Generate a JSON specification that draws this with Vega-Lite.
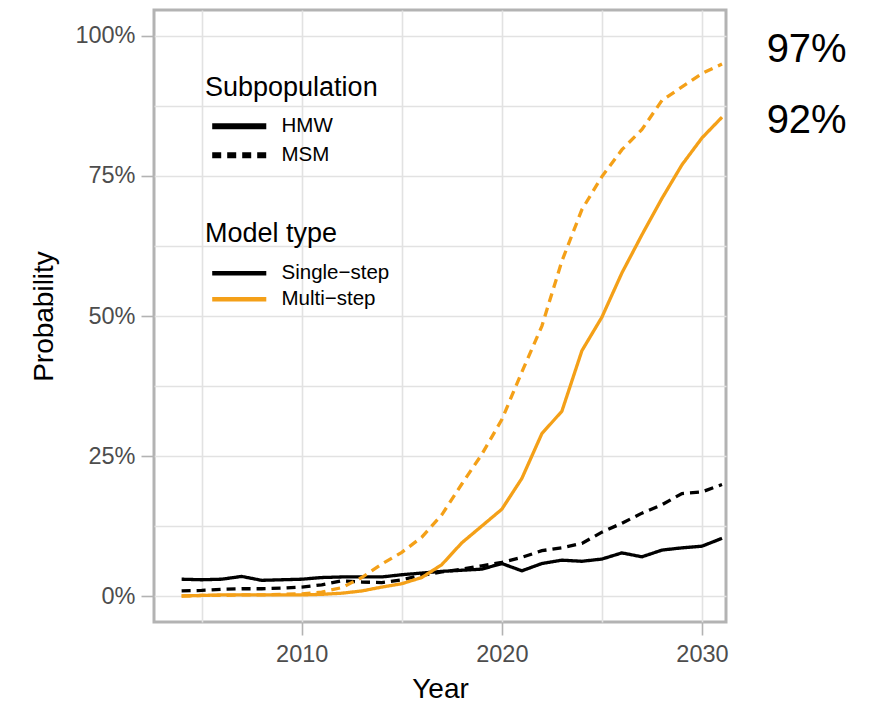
{
  "$schema": "https://vega.github.io/schema/vega-lite/v6.json",
  "width": 572,
  "height": 612,
  "autosize": {"type": "none"},
  "padding": {"left": 154, "top": 10, "right": 151, "bottom": 81},
  "background": "white",
  "config": {
    "font": "Liberation Sans",
    "view": {"stroke": "#B3B3B3", "strokeWidth": 3},
    "axis": {
      "domain": false,
      "gridColor": "#E2E2E2",
      "gridWidth": 1.6,
      "tickColor": "#B3B3B3",
      "tickWidth": 1.6,
      "tickSize": 13,
      "labelColor": "#4D4D4D",
      "labelFontSize": 23.5,
      "labelFont": "Liberation Sans",
      "titleFont": "Liberation Sans",
      "titleFontSize": 28,
      "titleFontWeight": "normal",
      "titleColor": "black"
    },
    "legend": {
      "titleFont": "Liberation Sans",
      "labelFont": "Liberation Sans",
      "titleFontSize": 27,
      "titleFontWeight": "normal",
      "titleColor": "black",
      "labelColor": "black",
      "labelFontSize": 20.5,
      "padding": 0
    }
  },
  "encoding": {
    "x": {
      "field": "year",
      "type": "quantitative",
      "scale": {"domain": [2002.62, 2031.2], "nice": false, "zero": false},
      "axis": {
        "title": "Year",
        "values": [2005, 2010, 2015, 2020, 2025, 2030],
        "labelExpr": "datum.value % 10 === 0 ? '' + datum.value : ''",
        "tickOpacity": {"condition": {"test": "datum.value % 10 === 0", "value": 1}, "value": 0},
        "labelPadding": 7,
        "titleX": 286,
        "titleY": 75,
        "titleBaseline": "alphabetic",
        "titleAlign": "center"
      }
    },
    "y": {
      "field": "prob",
      "type": "quantitative",
      "scale": {"domain": [-0.0464, 1.0464], "nice": false, "zero": false},
      "axis": {
        "title": "Probability",
        "values": [0, 0.125, 0.25, 0.375, 0.5, 0.625, 0.75, 0.875, 1],
        "labelExpr": "datum.value % 0.25 === 0 ? format(datum.value, '.0%') : ''",
        "tickOpacity": {"condition": {"test": "datum.value % 0.25 === 0", "value": 1}, "value": 0},
        "labelPadding": 6,
        "titleX": -102,
        "titleY": 306,
        "titleAngle": -90,
        "titleBaseline": "alphabetic",
        "titleAlign": "center"
      }
    }
  },
  "layer": [
    {
      "data": {
        "values": [
          {"year": 2004, "prob": 0.030, "subpopulation": "HMW", "model": "Single−step"},
          {"year": 2005, "prob": 0.029, "subpopulation": "HMW", "model": "Single−step"},
          {"year": 2006, "prob": 0.030, "subpopulation": "HMW", "model": "Single−step"},
          {"year": 2007, "prob": 0.035, "subpopulation": "HMW", "model": "Single−step"},
          {"year": 2008, "prob": 0.028, "subpopulation": "HMW", "model": "Single−step"},
          {"year": 2009, "prob": 0.029, "subpopulation": "HMW", "model": "Single−step"},
          {"year": 2010, "prob": 0.030, "subpopulation": "HMW", "model": "Single−step"},
          {"year": 2011, "prob": 0.033, "subpopulation": "HMW", "model": "Single−step"},
          {"year": 2012, "prob": 0.034, "subpopulation": "HMW", "model": "Single−step"},
          {"year": 2013, "prob": 0.034, "subpopulation": "HMW", "model": "Single−step"},
          {"year": 2014, "prob": 0.034, "subpopulation": "HMW", "model": "Single−step"},
          {"year": 2015, "prob": 0.038, "subpopulation": "HMW", "model": "Single−step"},
          {"year": 2016, "prob": 0.041, "subpopulation": "HMW", "model": "Single−step"},
          {"year": 2017, "prob": 0.044, "subpopulation": "HMW", "model": "Single−step"},
          {"year": 2018, "prob": 0.046, "subpopulation": "HMW", "model": "Single−step"},
          {"year": 2019, "prob": 0.048, "subpopulation": "HMW", "model": "Single−step"},
          {"year": 2020, "prob": 0.058, "subpopulation": "HMW", "model": "Single−step"},
          {"year": 2021, "prob": 0.045, "subpopulation": "HMW", "model": "Single−step"},
          {"year": 2022, "prob": 0.058, "subpopulation": "HMW", "model": "Single−step"},
          {"year": 2023, "prob": 0.064, "subpopulation": "HMW", "model": "Single−step"},
          {"year": 2024, "prob": 0.062, "subpopulation": "HMW", "model": "Single−step"},
          {"year": 2025, "prob": 0.066, "subpopulation": "HMW", "model": "Single−step"},
          {"year": 2026, "prob": 0.077, "subpopulation": "HMW", "model": "Single−step"},
          {"year": 2027, "prob": 0.070, "subpopulation": "HMW", "model": "Single−step"},
          {"year": 2028, "prob": 0.082, "subpopulation": "HMW", "model": "Single−step"},
          {"year": 2029, "prob": 0.086, "subpopulation": "HMW", "model": "Single−step"},
          {"year": 2030, "prob": 0.089, "subpopulation": "HMW", "model": "Single−step"},
          {"year": 2031, "prob": 0.103, "subpopulation": "HMW", "model": "Single−step"},

          {"year": 2004, "prob": 0.009, "subpopulation": "MSM", "model": "Single−step"},
          {"year": 2005, "prob": 0.010, "subpopulation": "MSM", "model": "Single−step"},
          {"year": 2006, "prob": 0.012, "subpopulation": "MSM", "model": "Single−step"},
          {"year": 2007, "prob": 0.013, "subpopulation": "MSM", "model": "Single−step"},
          {"year": 2008, "prob": 0.013, "subpopulation": "MSM", "model": "Single−step"},
          {"year": 2009, "prob": 0.014, "subpopulation": "MSM", "model": "Single−step"},
          {"year": 2010, "prob": 0.016, "subpopulation": "MSM", "model": "Single−step"},
          {"year": 2011, "prob": 0.020, "subpopulation": "MSM", "model": "Single−step"},
          {"year": 2012, "prob": 0.027, "subpopulation": "MSM", "model": "Single−step"},
          {"year": 2013, "prob": 0.025, "subpopulation": "MSM", "model": "Single−step"},
          {"year": 2014, "prob": 0.024, "subpopulation": "MSM", "model": "Single−step"},
          {"year": 2015, "prob": 0.029, "subpopulation": "MSM", "model": "Single−step"},
          {"year": 2016, "prob": 0.037, "subpopulation": "MSM", "model": "Single−step"},
          {"year": 2017, "prob": 0.043, "subpopulation": "MSM", "model": "Single−step"},
          {"year": 2018, "prob": 0.048, "subpopulation": "MSM", "model": "Single−step"},
          {"year": 2019, "prob": 0.054, "subpopulation": "MSM", "model": "Single−step"},
          {"year": 2020, "prob": 0.060, "subpopulation": "MSM", "model": "Single−step"},
          {"year": 2021, "prob": 0.069, "subpopulation": "MSM", "model": "Single−step"},
          {"year": 2022, "prob": 0.081, "subpopulation": "MSM", "model": "Single−step"},
          {"year": 2023, "prob": 0.086, "subpopulation": "MSM", "model": "Single−step"},
          {"year": 2024, "prob": 0.094, "subpopulation": "MSM", "model": "Single−step"},
          {"year": 2025, "prob": 0.114, "subpopulation": "MSM", "model": "Single−step"},
          {"year": 2026, "prob": 0.130, "subpopulation": "MSM", "model": "Single−step"},
          {"year": 2027, "prob": 0.148, "subpopulation": "MSM", "model": "Single−step"},
          {"year": 2028, "prob": 0.163, "subpopulation": "MSM", "model": "Single−step"},
          {"year": 2029, "prob": 0.183, "subpopulation": "MSM", "model": "Single−step"},
          {"year": 2030, "prob": 0.186, "subpopulation": "MSM", "model": "Single−step"},
          {"year": 2031, "prob": 0.199, "subpopulation": "MSM", "model": "Single−step"},

          {"year": 2004, "prob": 0.000, "subpopulation": "HMW", "model": "Multi−step"},
          {"year": 2005, "prob": 0.001, "subpopulation": "HMW", "model": "Multi−step"},
          {"year": 2006, "prob": 0.002, "subpopulation": "HMW", "model": "Multi−step"},
          {"year": 2007, "prob": 0.002, "subpopulation": "HMW", "model": "Multi−step"},
          {"year": 2008, "prob": 0.002, "subpopulation": "HMW", "model": "Multi−step"},
          {"year": 2009, "prob": 0.002, "subpopulation": "HMW", "model": "Multi−step"},
          {"year": 2010, "prob": 0.002, "subpopulation": "HMW", "model": "Multi−step"},
          {"year": 2011, "prob": 0.003, "subpopulation": "HMW", "model": "Multi−step"},
          {"year": 2012, "prob": 0.005, "subpopulation": "HMW", "model": "Multi−step"},
          {"year": 2013, "prob": 0.009, "subpopulation": "HMW", "model": "Multi−step"},
          {"year": 2014, "prob": 0.016, "subpopulation": "HMW", "model": "Multi−step"},
          {"year": 2015, "prob": 0.022, "subpopulation": "HMW", "model": "Multi−step"},
          {"year": 2016, "prob": 0.033, "subpopulation": "HMW", "model": "Multi−step"},
          {"year": 2017, "prob": 0.056, "subpopulation": "HMW", "model": "Multi−step"},
          {"year": 2018, "prob": 0.095, "subpopulation": "HMW", "model": "Multi−step"},
          {"year": 2019, "prob": 0.125, "subpopulation": "HMW", "model": "Multi−step"},
          {"year": 2020, "prob": 0.155, "subpopulation": "HMW", "model": "Multi−step"},
          {"year": 2021, "prob": 0.210, "subpopulation": "HMW", "model": "Multi−step"},
          {"year": 2022, "prob": 0.290, "subpopulation": "HMW", "model": "Multi−step"},
          {"year": 2023, "prob": 0.330, "subpopulation": "HMW", "model": "Multi−step"},
          {"year": 2024, "prob": 0.438, "subpopulation": "HMW", "model": "Multi−step"},
          {"year": 2025, "prob": 0.498, "subpopulation": "HMW", "model": "Multi−step"},
          {"year": 2026, "prob": 0.577, "subpopulation": "HMW", "model": "Multi−step"},
          {"year": 2027, "prob": 0.645, "subpopulation": "HMW", "model": "Multi−step"},
          {"year": 2028, "prob": 0.710, "subpopulation": "HMW", "model": "Multi−step"},
          {"year": 2029, "prob": 0.770, "subpopulation": "HMW", "model": "Multi−step"},
          {"year": 2030, "prob": 0.818, "subpopulation": "HMW", "model": "Multi−step"},
          {"year": 2031, "prob": 0.855, "subpopulation": "HMW", "model": "Multi−step"},

          {"year": 2004, "prob": 0.000, "subpopulation": "MSM", "model": "Multi−step"},
          {"year": 2005, "prob": 0.001, "subpopulation": "MSM", "model": "Multi−step"},
          {"year": 2006, "prob": 0.001, "subpopulation": "MSM", "model": "Multi−step"},
          {"year": 2007, "prob": 0.002, "subpopulation": "MSM", "model": "Multi−step"},
          {"year": 2008, "prob": 0.002, "subpopulation": "MSM", "model": "Multi−step"},
          {"year": 2009, "prob": 0.003, "subpopulation": "MSM", "model": "Multi−step"},
          {"year": 2010, "prob": 0.004, "subpopulation": "MSM", "model": "Multi−step"},
          {"year": 2011, "prob": 0.007, "subpopulation": "MSM", "model": "Multi−step"},
          {"year": 2012, "prob": 0.015, "subpopulation": "MSM", "model": "Multi−step"},
          {"year": 2013, "prob": 0.033, "subpopulation": "MSM", "model": "Multi−step"},
          {"year": 2014, "prob": 0.057, "subpopulation": "MSM", "model": "Multi−step"},
          {"year": 2015, "prob": 0.078, "subpopulation": "MSM", "model": "Multi−step"},
          {"year": 2016, "prob": 0.105, "subpopulation": "MSM", "model": "Multi−step"},
          {"year": 2017, "prob": 0.145, "subpopulation": "MSM", "model": "Multi−step"},
          {"year": 2018, "prob": 0.200, "subpopulation": "MSM", "model": "Multi−step"},
          {"year": 2019, "prob": 0.253, "subpopulation": "MSM", "model": "Multi−step"},
          {"year": 2020, "prob": 0.315, "subpopulation": "MSM", "model": "Multi−step"},
          {"year": 2021, "prob": 0.400, "subpopulation": "MSM", "model": "Multi−step"},
          {"year": 2022, "prob": 0.482, "subpopulation": "MSM", "model": "Multi−step"},
          {"year": 2023, "prob": 0.598, "subpopulation": "MSM", "model": "Multi−step"},
          {"year": 2024, "prob": 0.690, "subpopulation": "MSM", "model": "Multi−step"},
          {"year": 2025, "prob": 0.749, "subpopulation": "MSM", "model": "Multi−step"},
          {"year": 2026, "prob": 0.797, "subpopulation": "MSM", "model": "Multi−step"},
          {"year": 2027, "prob": 0.833, "subpopulation": "MSM", "model": "Multi−step"},
          {"year": 2028, "prob": 0.885, "subpopulation": "MSM", "model": "Multi−step"},
          {"year": 2029, "prob": 0.909, "subpopulation": "MSM", "model": "Multi−step"},
          {"year": 2030, "prob": 0.933, "subpopulation": "MSM", "model": "Multi−step"},
          {"year": 2031, "prob": 0.950, "subpopulation": "MSM", "model": "Multi−step"}
        ]
      },
      "mark": {"type": "line", "strokeWidth": 3.3, "clip": true},
      "encoding": {
        "color": {
          "field": "model",
          "type": "nominal",
          "sort": ["Single−step", "Multi−step"],
          "scale": {"domain": ["Single−step", "Multi−step"], "range": ["#000000", "#F4A018"]},
          "legend": {
            "title": "Model type",
            "orient": "none",
            "legendX": 51,
            "legendY": 211,
            "symbolType": "M-5,0H5",
            "symbolSize": 117,
            "symbolStrokeWidth": 4.5,
            "symbolFillColor": "transparent",
            "symbolOffset": 24,
            "labelOffset": 32,
            "titlePadding": 15,
            "rowPadding": 5
          }
        },
        "strokeDash": {
          "field": "subpopulation",
          "type": "nominal",
          "sort": ["HMW", "MSM"],
          "scale": {"domain": ["HMW", "MSM"], "range": [[1, 0], [9, 6]]},
          "legend": {
            "title": "Subpopulation",
            "orient": "none",
            "legendX": 51,
            "legendY": 65,
            "symbolType": "M-5,0H5",
            "symbolSize": 117,
            "symbolStrokeWidth": 6,
            "symbolStrokeColor": "#000000",
            "symbolFillColor": "transparent",
            "symbolOffset": 24,
            "labelOffset": 32,
            "titlePadding": 14,
            "rowPadding": 4
          }
        },
        "order": {"field": "model", "sort": "descending"}
      }
    },
    {
      "data": {
        "values": [
          {"year": 2035.23, "prob": 0.954, "label": "97%"},
          {"year": 2035.23, "prob": 0.826, "label": "92%"}
        ]
      },
      "mark": {"type": "text", "font": "Liberation Sans", "fontSize": 40, "align": "center", "baseline": "alphabetic", "color": "black", "clip": false},
      "encoding": {
        "text": {"field": "label", "type": "nominal"}
      }
    }
  ]
}
